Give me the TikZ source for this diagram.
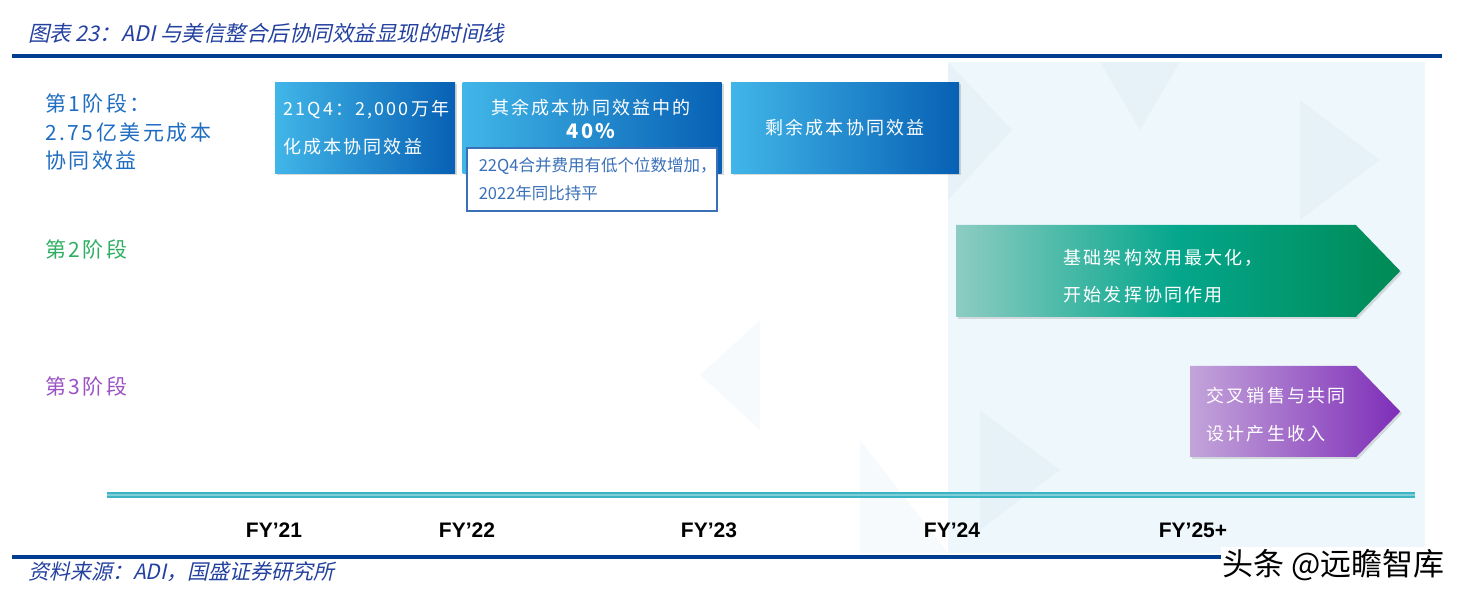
\documentclass[tikz,border=0pt]{standalone}
\usepackage{fontspec}
\setmainfont{Noto Sans CJK SC}
\newfontfamily\kaiit[FakeSlant=0.22]{Noto Sans CJK SC}
\newfontfamily\spaced[LetterSpace=12]{Noto Sans CJK SC}
\newfontfamily\fyfont{Liberation Sans}
\usetikzlibrary{positioning,calc,shapes.symbols,shadows}

\definecolor{titleblue}{HTML}{2441A0}
\definecolor{rule}{HTML}{003C8F}
\definecolor{stageA}{HTML}{1F6DC0}
\definecolor{stageB}{HTML}{2FAE62}
\definecolor{stageC}{HTML}{9B52C2}
\definecolor{cyanL}{HTML}{41B6E8}
\definecolor{cyanD}{HTML}{0760B4}
\definecolor{tealL}{HTML}{8DCCC2}
\definecolor{tealM}{HTML}{04A68C}
\definecolor{tealD}{HTML}{008A55}
\definecolor{violL}{HTML}{C3A4DA}
\definecolor{violD}{HTML}{7E2EB8}
\definecolor{noteblue}{HTML}{3A70B8}
\definecolor{panel}{HTML}{EEF7FB}
\definecolor{facet}{HTML}{E2EFF6}
\definecolor{axis}{HTML}{3DB4C4}

\begin{document}
\begin{tikzpicture}[x=1pt,y=1pt,
  bluebox/.style={inner sep=0pt,minimum height=91,left color=cyanL,right color=cyanD,
    drop shadow={opacity=0.3,shadow xshift=2pt,shadow yshift=-2pt}},
  boxtxt/.style={text=white,font=\spaced\fontsize{18}{38}\selectfont},
  note/.style={draw=noteblue,line width=1.6pt,fill=white,text=noteblue,align=left,
    font=\fontsize{16.5}{28}\selectfont,inner xsep=12pt,text width=226},
  stage/.style={anchor=west,inner sep=0pt,font=\spaced\fontsize{21}{28.5}\selectfont,align=left},
  arrowbox/.style={signal,signal to=east,signal pointer angle=92,inner sep=0pt,anchor=west,
    drop shadow={opacity=0.25,shadow xshift=2pt,shadow yshift=-2pt}},
  fylbl/.style={font=\fyfont\bfseries\fontsize{21}{21}\selectfont},
  rulebar/.style={rule,line width=3.5pt}]

\useasboundingbox (0,0) rectangle (1460,600);
\fill[panel] (948,47) rectangle (1425,538);
\fill[facet,opacity=0.5] (948,538) -- (1012,470) -- (948,400) -- cycle;
\fill[facet,opacity=0.5] (1100,538) -- (1180,538) -- (1140,470) -- cycle;
\fill[facet,opacity=0.5] (1300,500) -- (1380,440) -- (1300,380) -- cycle;
\fill[facet,opacity=0.5] (980,190) -- (1060,130) -- (980,70) -- cycle;
\fill[facet,opacity=0.3] (700,225) -- (760,170) -- (760,280) -- cycle;
\fill[facet,opacity=0.3] (860,160) -- (948,47) -- (860,47) -- cycle;

\node[anchor=west,inner sep=0pt,text=titleblue,font=\kaiit\fontsize{21.5}{21.5}\selectfont] (ttl) at (28,567)
  {图表 23：ADI 与美信整合后协同效益显现的时间线};
\draw[rulebar] (12,544) -- (1442,544);

\node[stage,text=stageA] (st1) at (45,468) {第1阶段：\\2.75亿美元成本\\协同效益};
\node[stage,text=stageB] (st2) at (45,350) {第2阶段};
\node[stage,text=stageC] (st3) at (45,213) {第3阶段};

\node[bluebox,boxtxt,anchor=north west,minimum width=180,text width=164,align=left] (cost1) at (275,518)
  {21Q4：2,000万年\\化成本协同效益};
\node[bluebox,minimum width=259,right=7pt of cost1] (cost2) {};
\node[bluebox,boxtxt,minimum width=228,right=9pt of cost2] (cost3) {剩余成本协同效益};
\node[boxtxt,align=center,font=\spaced\fontsize{18}{24}\selectfont] (cost2t) at (591,481)
  {其余成本协同效益中的\\{\fontsize{20}{24}\selectfont\bfseries 40\%}};
\node[note,minimum height=63,anchor=north west] (memo) at (466,453)
  {22Q4合并费用有低个位数增加，\\2022年同比持平};

\node[arrowbox,minimum width=444,minimum height=92,left color=tealL,right color=tealD,middle color=tealM] (infra) at (956,329) {};
\node[boxtxt,align=left,anchor=west,font=\spaced\fontsize{18}{37}\selectfont] (infrat) at (1060,323.5)
  {基础架构效用最大化，\\开始发挥协同作用};
\node[arrowbox,minimum width=210,minimum height=91,left color=violL,right color=violD] (cross) at (1190,188.5) {};
\node[boxtxt,align=left,anchor=west] (crosst) at (1203,185) {交叉销售与共同\\设计产生收入};

\coordinate (ax0) at (107,105);
\coordinate (ax1) at (1415,105);
\draw[axis,line width=6pt] (ax0) -- (ax1);
\draw[white,opacity=0.35,line width=1.2pt] (ax0) -- (ax1);
\foreach \yr/\xc [count=\i] in {21/274,22/467,23/709,24/952,25+/1193}
  \node[fylbl] (fy\i) at (\xc,70) {FY’\yr};

\draw[rulebar] (12,43) -- (1442,43);
\node[anchor=west,inner sep=0pt,text=titleblue,font=\kaiit\fontsize{21}{21}\selectfont] (src) at (28,28)
  {资料来源：ADI，国盛证券研究所};
\node[anchor=east,fill=white,inner sep=2pt,font=\fontsize{31}{31}\selectfont] (wm) at (1447,35) {头条 @远瞻智库};
\end{tikzpicture}
\end{document}
